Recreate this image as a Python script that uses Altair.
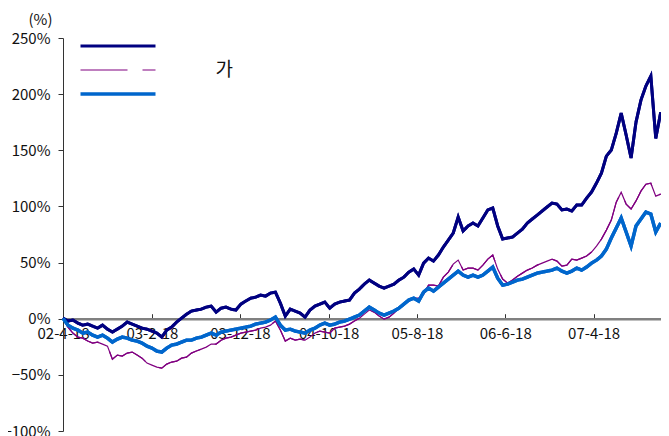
import altair as alt
import pandas as pd

# ---- data ----
start_date = "2002-04-18"
step_days = 17
tick_dates = ["2002-04-18", "2003-02-18", "2003-12-18", "2004-10-18",
              "2005-08-18", "2006-06-18", "2007-04-18"]
domain_end = "2007-12-06"
y_ticks = [-100, -50, 0, 50, 100, 150, 200, 250]

series_keys = ["s1", "s2", "s3"]
legend_labels = ["", "가", ""]
colors = ["#000080", "#800080", "#0066CC"]
widths = [3.0, 1.2, 3.4]
dashes = [[1, 0], [47, 15], [1, 0]]

s1 = [0.5, -2.1, -1.2, -3.9, -5.7, -4.8, -6.6, -8.4, -5.7, -9.3,
      -11.9, -9.3, -6.6, -3.0, -4.8, -6.6, -8.4, -9.3, -11.0, -12.8,
      -16.4, -10.1, -7.5, -3.0, 0.5, 4.0, 6.8, 7.7, 8.5, 10.3,
      11.2, 5.9, 9.4, 10.3, 8.5, 7.7, 13.0, 15.7, 18.3, 19.2,
      21.0, 20.1, 22.8, 23.7, 13.9, 2.3, 8.5, 6.8, 5.0, 1.4,
      7.7, 11.2, 13.0, 14.8, 9.4, 13.0, 14.8, 15.7, 16.6, 22.8,
      26.4, 30.8, 34.4, 31.7, 29.0, 27.3, 29.0, 30.8, 34.4, 37.0,
      41.5, 44.2, 38.8, 49.5, 54.0, 51.3, 56.7, 63.8, 70.0, 76.3,
      90.5, 78.1, 82.6, 85.2, 82.6, 89.7, 96.9, 98.6, 82.6, 71.0,
      71.9, 72.7, 76.3, 79.8, 85.2, 88.8, 92.3, 95.9, 99.5, 103.0,
      102.1, 96.9, 97.7, 95.9, 101.2, 101.2, 107.4, 112.8, 120.8, 129.7,
      144.8, 150.2, 165.3, 183.1, 163.6, 143.1, 175.1, 194.7, 207.2, 216.1,
      160.6, 183.9]

s2 = [0.5, -7.5, -12.8, -16.4, -17.3, -19.9, -21.7, -20.8, -22.6, -24.4,
      -36.0, -32.4, -33.3, -30.6, -29.7, -32.4, -35.1, -39.5, -41.3, -43.1,
      -44.0, -40.4, -38.6, -37.8, -35.1, -34.2, -30.6, -28.8, -27.1, -25.3,
      -22.6, -22.6, -19.1, -17.3, -16.4, -14.6, -12.8, -11.9, -11.0, -10.1,
      -8.4, -7.5, -5.7, -2.1, -10.1, -19.9, -17.3, -19.1, -18.2, -19.1,
      -16.4, -12.8, -11.0, -11.9, -12.8, -8.4, -7.5, -6.6, -4.8, -2.1,
      0.5, 4.1, 7.7, 5.9, 2.3, -0.4, 1.4, 5.0, 9.4, 13.0,
      15.7, 18.3, 18.3, 21.9, 29.9, 29.9, 29.0, 37.0, 41.5, 48.6,
      52.2, 43.3, 45.1, 45.1, 43.3, 47.7, 53.1, 56.7, 44.2, 35.3,
      31.7, 34.4, 37.9, 40.6, 43.3, 45.1, 47.7, 49.5, 51.3, 53.1,
      51.3, 46.8, 47.7, 53.1, 52.2, 54.0, 55.8, 59.4, 64.7, 70.9,
      78.9, 87.8, 103.8, 112.7, 102.1, 97.7, 104.9, 113.6, 119.8, 120.7,
      109.2, 111.0]

s3 = [0.5, -5.7, -8.4, -10.1, -12.8, -11.9, -14.6, -16.4, -14.6, -17.3,
      -20.8, -18.2, -16.4, -17.3, -19.1, -19.9, -21.7, -24.4, -26.2, -28.8,
      -29.7, -26.2, -23.5, -22.6, -20.8, -19.1, -19.1, -17.3, -16.4, -14.6,
      -12.8, -14.6, -11.9, -11.0, -10.1, -9.3, -8.4, -7.5, -6.6, -4.8,
      -3.9, -3.0, -1.2, 1.4, -5.7, -10.1, -9.3, -11.0, -11.9, -12.8,
      -10.1, -8.4, -5.7, -3.9, -5.7, -4.8, -3.0, -2.1, -0.4, 1.4,
      3.2, 6.8, 10.3, 7.7, 5.0, 3.2, 5.0, 6.8, 9.4, 13.0,
      16.6, 18.3, 15.7, 23.7, 27.3, 24.6, 28.1, 31.7, 35.3, 38.8,
      42.4, 38.8, 37.0, 38.8, 37.0, 38.8, 42.4, 46.0, 36.1, 29.9,
      30.8, 32.6, 34.4, 35.3, 37.0, 38.8, 40.6, 41.5, 42.4, 43.3,
      45.1, 42.4, 40.6, 42.4, 45.1, 43.3, 46.0, 49.5, 52.2, 55.8,
      62.0, 71.9, 80.7, 89.7, 77.2, 64.7, 82.6, 88.8, 95.0, 93.2,
      77.2, 85.2]

# ---- build table ----
n = len(s1)
dates = pd.date_range(start_date, periods=n, freq=f"{step_days}D").strftime("%Y-%m-%d")
rows = []
for key, vals in zip(series_keys, [s1, s2, s3]):
    for d, v in zip(dates, vals):
        rows.append({"date": d, "series": key, "value": v})
df = pd.DataFrame(rows)


def dt(s):
    y, m, d = s.split("-")
    return alt.DateTime(year=int(y), month=int(m), date=int(d), utc=True)


label_expr = "''"
for k, lab in reversed(list(zip(series_keys, legend_labels))):
    label_expr = f"datum.label === '{k}' ? '{lab}' : ({label_expr})"

FONT = "Noto Sans CJK KR"
W, H = 598, 393
ymin, ymax = -100, 250
zero_from_top = H * ymax / (ymax - ymin)
zero_from_bottom = H * (-ymin) / (ymax - ymin)

legend = alt.Legend(
    title=None, orient="none", legendX=15.5, legendY=-2,
    symbolType="stroke", symbolSize=5625, clipHeight=20, rowPadding=4,
    padding=0, labelOffset=58, labelFont=FONT, labelFontSize=19,
    labelColor="#111111", labelExpr=label_expr,
)

xscale = alt.Scale(type="utc", domain=[dt(start_date), dt(domain_end)])
yscale = alt.Scale(domain=[ymin, ymax], nice=False, zero=False)
color = alt.Color("series:N", scale=alt.Scale(domain=series_keys, range=colors), legend=legend)
swidth = alt.StrokeWidth("series:N",
                         scale=alt.Scale(type="ordinal", domain=series_keys, range=widths),
                         legend=legend)

x_top = alt.Axis(
    orient="top", offset=-zero_from_top, values=[dt(s) for s in tick_dates],
    labels=False, title=None, grid=False, domainColor="#808080", domainWidth=2.5,
    tickColor="#333333", tickWidth=1, tickSize=5,
)
x_bottom = alt.Axis(
    orient="bottom", offset=-zero_from_bottom, values=[dt(s) for s in tick_dates],
    format="%y-%-m-%d", labelFont=FONT, labelFontSize=15, labelColor="#111111",
    labelPadding=8, labelFlush=False, labelOverlap=False, labelBound=False,
    domain=False, ticks=False, title=None, grid=False,
)
y_axis = alt.Axis(
    values=y_ticks, labelExpr="format(datum.value, 'd') + '%'",
    labelFont=FONT, labelFontSize=15, labelColor="#111111", labelPadding=8,
    tickSize=5, tickColor="#333333", domainColor="#333333", grid=False,
    title="(%)", titleAngle=0, titleX=-11, titleY=-19, titleAlign="right",
    titleBaseline="middle", titleFont=FONT, titleFontSize=15,
    titleFontWeight="normal", titleColor="#111111",
)

dashed = alt.Chart(df).mark_line().encode(
    x=alt.X("date:T", scale=xscale, axis=x_top),
    y=alt.Y("value:Q", scale=yscale, axis=y_axis),
    color=color,
    strokeWidth=swidth,
    strokeDash=alt.StrokeDash("series:N", scale=alt.Scale(domain=series_keys, range=dashes), legend=legend),
)

solid = alt.Chart(df).mark_line().encode(
    x=alt.X("date:T", scale=xscale, axis=x_bottom),
    y=alt.Y("value:Q", scale=yscale, axis=None),
    color=color,
    strokeWidth=swidth,
)

chart = alt.layer(dashed, solid).resolve_axis(x="independent", y="independent").properties(
    width=W, height=H,
    autosize=alt.AutoSizeParams(type="none"),
    padding={"left": 55, "top": 30, "right": 0, "bottom": 10},
    background="white",
).configure_view(stroke=None)

chart.save("out.html", embed_options={"renderer": "svg", "actions": False})
